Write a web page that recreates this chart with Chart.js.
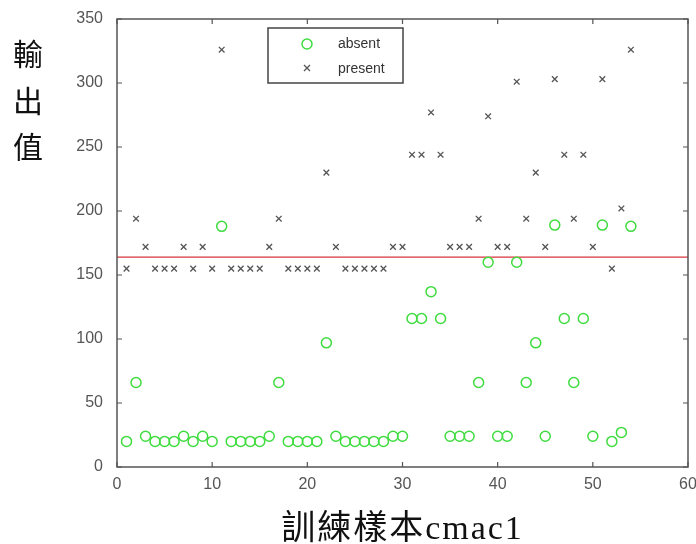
<!DOCTYPE html>
<html>
<head>
<meta charset="utf-8">
<script src="https://cdn.jsdelivr.net/npm/chart.js@4.4.0/dist/chart.umd.min.js"></script>
<style>
  html, body { margin: 0; padding: 0; background: #fff; }
  #wrap { width: 696px; height: 544px; position: relative; }
</style>
</head>
<body>
<div id="wrap"><canvas id="chart" width="696" height="544"></canvas></div>
<script>
// data
const samples = [1,2,3,4,5,6,7,8,9,10,11,12,13,14,15,16,17,18,19,20,21,22,23,24,25,26,27,
  28,29,30,31,32,33,34,35,36,37,38,39,40,41,42,43,44,45,46,47,48,49,50,51,52,53,54];
const absent = [20,66,24,20,20,20,24,20,24,20,188,20,20,20,20,24,66,20,20,20,20,97,24,20,20,20,20,
  20,24,24,116,116,137,116,24,24,24,66,160,24,24,160,66,97,24,189,116,66,116,24,189,20,27,188];
const present = [155,194,172,155,155,155,172,155,172,155,326,155,155,155,155,172,194,155,155,155,155,230,172,155,155,155,155,
  155,172,172,244,244,277,244,172,172,172,194,274,172,172,301,194,230,172,303,244,194,244,172,303,155,202,326];
const threshold = 164;
const seriesNames = ["absent", "present"];
const xTicks = [0, 10, 20, 30, 40, 50, 60];
const yTicks = [0, 50, 100, 150, 200, 250, 300, 350];
const xTitle = "訓練樣本cmac1";
const yTitle = "輸出值";

const GREEN = "#3fdc3f";
const GRAY = "#555555";

// bingkai, tick ke dalam, legend dan judul sumbu
const decor = {
  id: "decor",
  afterDraw(chart) {
    const ctx = chart.ctx;
    const a = chart.chartArea;
    const sx = chart.scales.x, sy = chart.scales.y;
    ctx.save();
    ctx.strokeStyle = "#555";
    ctx.lineWidth = 1.5;
    ctx.strokeRect(a.left, a.top, a.right - a.left, a.bottom - a.top);
    ctx.lineWidth = 1.2;
    ctx.beginPath();
    xTicks.forEach(v => {
      const px = sx.getPixelForValue(v);
      ctx.moveTo(px, a.bottom); ctx.lineTo(px, a.bottom - 5);
      ctx.moveTo(px, a.top); ctx.lineTo(px, a.top + 5);
    });
    yTicks.forEach(v => {
      const py = sy.getPixelForValue(v);
      ctx.moveTo(a.left, py); ctx.lineTo(a.left + 5, py);
      ctx.moveTo(a.right, py); ctx.lineTo(a.right - 5, py);
    });
    ctx.stroke();

    // legend
    ctx.fillStyle = "#fff";
    ctx.fillRect(268, 28, 135, 55);
    ctx.strokeStyle = "#444";
    ctx.lineWidth = 1.5;
    ctx.strokeRect(268, 28, 135, 55);
    ctx.strokeStyle = GREEN;
    ctx.lineWidth = 1.5;
    ctx.beginPath(); ctx.arc(307, 44, 5, 0, Math.PI * 2); ctx.stroke();
    ctx.strokeStyle = GRAY;
    ctx.lineWidth = 1.3;
    ctx.beginPath();
    ctx.moveTo(304, 65); ctx.lineTo(310, 71);
    ctx.moveTo(310, 65); ctx.lineTo(304, 71);
    ctx.stroke();
    ctx.fillStyle = "#333";
    ctx.font = "14px 'Liberation Sans', Arial, sans-serif";
    ctx.textAlign = "left";
    ctx.textBaseline = "middle";
    ctx.fillText(seriesNames[0], 338, 44);
    ctx.fillText(seriesNames[1], 338, 69);

    // judul sumbu
    ctx.fillStyle = "#111";
    ctx.textAlign = "center";
    ctx.textBaseline = "middle";
    ctx.font = "30px 'Noto Sans CJK TC', sans-serif";
    [...yTitle].forEach((ch, i) => ctx.fillText(ch, 28, 54 + i * 46.5));
    ctx.font = "34px 'Liberation Serif', 'Noto Sans CJK TC', serif";
    if ("letterSpacing" in ctx) ctx.letterSpacing = "2px";
    ctx.textBaseline = "alphabetic";
    ctx.fillText(xTitle, (a.left + a.right) / 2, 539);
    ctx.restore();
  }
};

new Chart(document.getElementById("chart"), {
  type: "scatter",
  data: {
    datasets: [
      {
        label: seriesNames[0],
        data: samples.map((s, i) => ({ x: s, y: absent[i] })),
        pointStyle: "circle",
        pointRadius: 5,
        borderColor: GREEN,
        backgroundColor: "rgba(0,0,0,0)",
        borderWidth: 1.5
      },
      {
        label: seriesNames[1],
        data: samples.map((s, i) => ({ x: s, y: present[i] })),
        pointStyle: "crossRot",
        pointRadius: 4,
        borderColor: GRAY,
        backgroundColor: GRAY,
        borderWidth: 1.3
      },
      {
        label: "threshold",
        type: "line",
        data: [{ x: xTicks[0], y: threshold }, { x: xTicks[xTicks.length - 1], y: threshold }],
        borderColor: "#d9343c",
        borderWidth: 1.3,
        pointRadius: 0,
        fill: false
      }
    ]
  },
  options: {
    responsive: false,
    animation: false,
    layout: { padding: { top: 19, right: 8, left: 0, bottom: 0 } },
    plugins: {
      legend: { display: false },
      tooltip: { enabled: false }
    },
    scales: {
      x: {
        type: "linear",
        min: xTicks[0],
        max: xTicks[xTicks.length - 1],
        afterBuildTicks: s => { s.ticks = xTicks.map(v => ({ value: v })); },
        afterFit: s => { s.height = 77; s.paddingLeft = 0; s.paddingRight = 0; },
        grid: { display: false },
        border: { display: false },
        ticks: {
          color: "#555",
          padding: 0,
          font: { family: "'Liberation Sans', Arial, sans-serif", size: 16 },
          maxRotation: 0
        }
      },
      y: {
        min: yTicks[0],
        max: yTicks[yTicks.length - 1],
        afterBuildTicks: s => { s.ticks = yTicks.map(v => ({ value: v })); },
        afterFit: s => { s.width = 117; s.paddingTop = 0; s.paddingBottom = 0; },
        grid: { display: false },
        border: { display: false },
        ticks: {
          color: "#555",
          padding: 6,
          font: { family: "'Liberation Sans', Arial, sans-serif", size: 16 }
        }
      }
    }
  },
  plugins: [decor]
});
</script>
</body>
</html>
